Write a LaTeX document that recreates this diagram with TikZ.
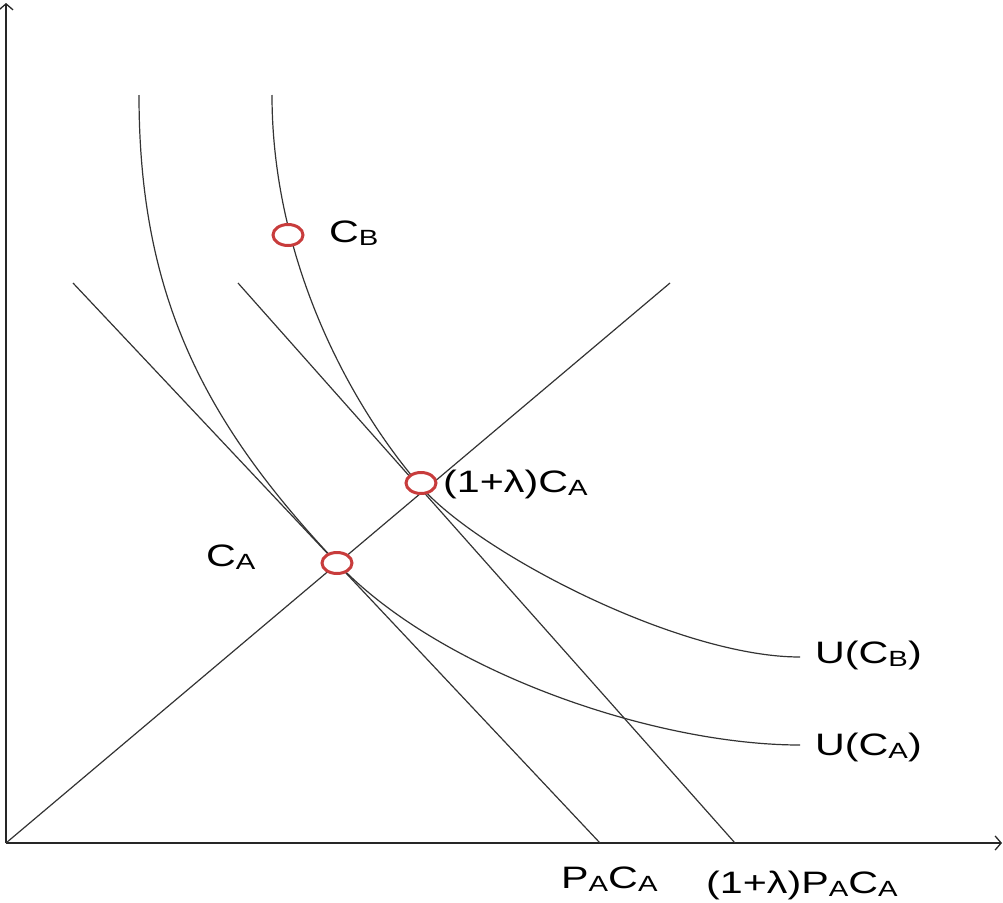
\documentclass[tikz,border=0pt]{standalone}
\usepackage{fontspec}
\setmainfont{Liberation Sans}[FakeStretch=1.33]
\usetikzlibrary{arrows.meta,shapes.geometric}
\definecolor{ptred}{RGB}{200,60,60}
\newcommand{\sbs}[1]{\raisebox{-3pt}{\fontsize{22}{22}\selectfont #1}}
\begin{document}
\begin{tikzpicture}[x=1pt,y=-1pt,
  axis/.style={line width=1.3pt, black!85, -{Straight Barb[length=6pt,width=14pt]}},
  ln/.style={line width=1.2pt, black!80},
  crv/.style={line width=1.2pt, black!80},
  pt/.style={ellipse, draw=ptred, fill=white, line width=3pt, minimum width=30pt, minimum height=21pt, inner sep=0pt},
  lbl/.style={font=\fontsize{31}{36}\selectfont, inner sep=0pt, anchor=base west}]
\useasboundingbox (0,0) rectangle (1003,902);
% axes
\coordinate (O) at (6,843);
\coordinate (ytop) at (6,3);
\coordinate (xend) at (1002,843);
\draw[axis] (O) -- (ytop);
\draw[axis] (O) -- (xend);
% lines
\coordinate (rayend) at (670,283);
\coordinate (b1s) at (73,283);
\coordinate (b1e) at (600,843);
\coordinate (b2s) at (238,283);
\coordinate (b2e) at (735,843);
\draw[ln] (O) -- (rayend);
\draw[ln] (b1s) -- (b1e);
\draw[ln] (b2s) -- (b2e);
% tangency points
\coordinate (tA) at (337,563);
\coordinate (tB) at (423,489);
% indifference curves
\coordinate (uAtop) at (139,95);
\coordinate (uAend) at (800,745);
\coordinate (uBtop) at (272,95);
\coordinate (uBend) at (800,657);
\draw[crv] (uAtop) .. controls (139,300) and (207,425) .. (tA)
  .. controls (440,672) and (655,745) .. (uAend);
\draw[crv] (uBtop) .. controls (272,260) and (350,406) .. (tB)
  .. controls (483,555) and (680,657) .. (uBend);
% points
\node[pt] (CB) at (288,235) {};
\node[pt] (CAl) at (421,483) {};
\node[pt] (CA) at (tA) {};
% labels
\node[lbl] (lCB) at (329,242) {C\sbs{B}};
\node[lbl] (lCAl) at (443,492) {(1+λ)C\sbs{A}};
\node[lbl] (lCA) at (206,566) {C\sbs{A}};
\node[lbl] (lUB) at (815,663) {U(C\sbs{B})};
\node[lbl] (lUA) at (815,755) {U(C\sbs{A})};
\node[lbl] (lPC) at (561,888) {P\sbs{A}C\sbs{A}};
\node[lbl] (lPC2) at (706,893) {(1+λ)P\sbs{A}C\sbs{A}};
\end{tikzpicture}
\end{document}
